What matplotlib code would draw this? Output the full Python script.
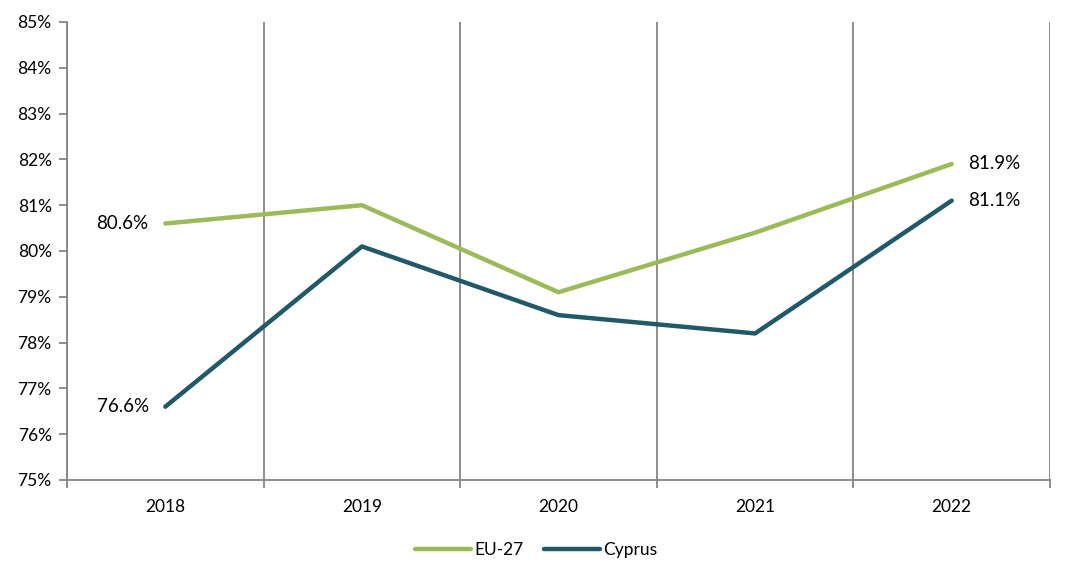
import matplotlib
matplotlib.use("Agg")
import matplotlib.pyplot as plt
from matplotlib.ticker import FixedLocator, PercentFormatter

years = ["2018", "2019", "2020", "2021", "2022"]
eu27 = [80.6, 81.0, 79.1, 80.4, 81.9]
cyprus = [76.6, 80.1, 78.6, 78.2, 81.1]

plt.rcParams["font.family"] = ["Lato", "DejaVu Sans"]

EU_COLOR = "#9bbb59"
CY_COLOR = "#215968"
GRID = "#868686"

fig = plt.figure(figsize=(10.73, 5.82), dpi=100)
ax = fig.add_axes([67 / 1073, 1 - 480 / 582, (1050 - 67) / 1073, (480 - 22) / 582])

x = list(range(len(years)))
ax.plot(x, eu27, color=EU_COLOR, lw=3.2, label="EU-27", solid_capstyle="round", solid_joinstyle="round")
ax.plot(x, cyprus, color=CY_COLOR, lw=3.2, label="Cyprus", solid_capstyle="round", solid_joinstyle="round")

ax.set_xlim(-0.5, len(years) - 0.5)
ax.set_ylim(75, 85)
ax.set_yticks(range(75, 86))
ax.yaxis.set_major_formatter(PercentFormatter(decimals=0))
ax.set_xticks(x, years)
ax.xaxis.set_minor_locator(FixedLocator([i + 0.5 for i in range(-1, len(years))]))
ax.tick_params(axis="x", which="major", length=0, pad=14, labelsize=12.5)
ax.tick_params(axis="x", which="minor", length=6, width=1.3, color=GRID, direction="out")
ax.tick_params(axis="y", length=6, width=1.3, color=GRID, labelsize=12.5, pad=5)
ax.grid(axis="x", which="minor", color=GRID, lw=1.3)
ax.set_axisbelow(True)

for side in ["top", "right"]:
    ax.spines[side].set_visible(False)
for side in ["left", "bottom"]:
    ax.spines[side].set_color(GRID)
    ax.spines[side].set_linewidth(1.3)

ax.annotate(f"{eu27[0]:.1f}%", (x[0], eu27[0]), xytext=(-12, 0), textcoords="offset points",
            ha="right", va="center", fontsize=13.5)
ax.annotate(f"{cyprus[0]:.1f}%", (x[0], cyprus[0]), xytext=(-12, 0), textcoords="offset points",
            ha="right", va="center", fontsize=13.5)
ax.annotate(f"{eu27[-1]:.1f}%", (x[-1], eu27[-1]), xytext=(12, 0), textcoords="offset points",
            ha="left", va="center", fontsize=13.5)
ax.annotate(f"{cyprus[-1]:.1f}%", (x[-1], cyprus[-1]), xytext=(12, 0), textcoords="offset points",
            ha="left", va="center", fontsize=13.5)

fig.legend(loc="center", bbox_to_anchor=(0.5, 1 - 550 / 582), ncol=2, frameon=False,
           fontsize=12.5, handlelength=3.2, handletextpad=0.2, columnspacing=1.2)

fig.savefig("out.png", dpi=100)
